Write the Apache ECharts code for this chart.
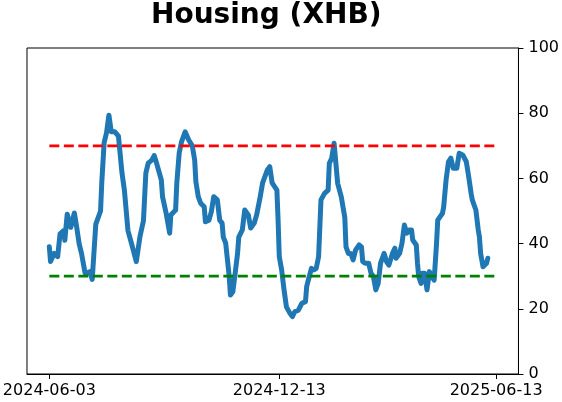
<!DOCTYPE html>
<html>
<head>
<meta charset="utf-8">
<script src="https://cdn.jsdelivr.net/npm/echarts@6/dist/echarts.min.js"></script>
<style>
  html, body { margin: 0; padding: 0; background: #fff; }
  #chart { width: 562px; height: 402px; }
</style>
</head>
<body>
<div id="chart"></div>
<script>
// readings of the XHB line, one per date
var dates = [
  '2024-06-03','2024-06-04','2024-06-07','2024-06-10','2024-06-12','2024-06-15','2024-06-16','2024-06-18',
  '2024-06-21','2024-06-24','2024-06-26','2024-06-28','2024-06-30','2024-07-03','2024-07-05','2024-07-07',
  '2024-07-09','2024-07-12','2024-07-16','2024-07-17','2024-07-19','2024-07-21','2024-07-23','2024-07-25',
  '2024-07-28','2024-07-31','2024-08-03','2024-08-05','2024-08-08','2024-08-11','2024-08-15','2024-08-18',
  '2024-08-21','2024-08-23','2024-08-25','2024-08-28','2024-08-30','2024-09-01','2024-09-05','2024-09-06',
  '2024-09-09','2024-09-12','2024-09-13','2024-09-17','2024-09-18','2024-09-20','2024-09-22','2024-09-25',
  '2024-09-28','2024-10-01','2024-10-03','2024-10-04','2024-10-06','2024-10-08','2024-10-11','2024-10-12',
  '2024-10-15','2024-10-17','2024-10-19','2024-10-22','2024-10-24','2024-10-26','2024-10-27','2024-10-29',
  '2024-11-01','2024-11-02','2024-11-04','2024-11-06','2024-11-08','2024-11-09','2024-11-12','2024-11-14',
  '2024-11-17','2024-11-19','2024-11-22','2024-11-24','2024-11-27','2024-11-29','2024-12-03','2024-12-05',
  '2024-12-07','2024-12-11','2024-12-12','2024-12-13','2024-12-15','2024-12-17','2024-12-19','2024-12-22',
  '2024-12-24','2024-12-26','2024-12-29','2025-01-01','2025-01-04','2025-01-05','2025-01-06','2025-01-09',
  '2025-01-11','2025-01-13','2025-01-15','2025-01-17','2025-01-20','2025-01-23','2025-01-24','2025-01-26',
  '2025-01-28','2025-01-29','2025-01-31','2025-02-03','2025-02-06','2025-02-07','2025-02-09','2025-02-11',
  '2025-02-13','2025-02-15','2025-02-18','2025-02-20','2025-02-21','2025-02-23','2025-02-26','2025-02-28',
  '2025-03-02','2025-03-04','2025-03-06','2025-03-08','2025-03-10','2025-03-11','2025-03-13','2025-03-15',
  '2025-03-18','2025-03-20','2025-03-21','2025-03-24','2025-03-26','2025-03-28','2025-03-30','2025-04-01',
  '2025-04-03','2025-04-04','2025-04-07','2025-04-08','2025-04-09','2025-04-11','2025-04-12','2025-04-14',
  '2025-04-16','2025-04-18','2025-04-20','2025-04-22','2025-04-24','2025-04-25','2025-04-29','2025-04-30',
  '2025-05-02','2025-05-04','2025-05-06','2025-05-08','2025-05-11','2025-05-13','2025-05-16','2025-05-19',
  '2025-05-21','2025-05-23','2025-05-24','2025-05-27','2025-05-29','2025-05-30','2025-05-31','2025-06-02',
  '2025-06-05','2025-06-06'
];
var values = [
  39, 34.5, 37, 36, 43, 44, 41, 49,
  45, 49.4, 45, 40, 37, 31, 31, 31.4,
  29, 46, 50, 58.6, 71, 74, 79.4, 74.3,
  74.3, 73, 61.6, 56.4, 44, 40, 34.5, 42,
  47, 61.6, 64.7, 65.6, 67, 64.7, 59.5, 54.4,
  49.4, 43.2, 48.8, 50.3, 58.6, 67.8, 71.3, 74.3,
  71.8, 70, 65.6, 59, 54.4, 52.4, 51.3, 46.7,
  47.2, 49.8, 54.4, 53.4, 47.2, 46.3, 42, 40.2,
  29.9, 24.2, 25.2, 31, 37, 42, 44.2, 50.3,
  48.8, 44.8, 46.3, 48.8, 54.4, 58.6, 62.6, 63.6,
  58.6, 56.4, 47.2, 36, 31.9, 25.8, 20.6, 18.6,
  17.6, 19.1, 19.6, 21.7, 22.2, 26.8, 28.3, 32.4,
  31.9, 32.4, 36, 53.4, 55.4, 56.4, 64.6, 66.2,
  70.8, 66.7, 58.5, 54.4, 48, 39, 37, 37,
  35, 38, 39.6, 39, 34.5, 34, 34, 30.9,
  29.9, 25.8, 27.8, 34, 36, 37, 34.5, 33.4,
  37, 38.6, 35.5, 37, 40.1, 45.7, 43.2, 44.2,
  44.2, 41.1, 39.6, 34, 29.9, 27.8, 30.9, 30.9,
  25.8, 31.4, 29.9, 28.8, 40.1, 47.2, 49.3, 51.3,
  59.5, 65.1, 66.2, 63.1, 63.1, 67.7, 67.2, 65.1,
  60.5, 55.4, 53.4, 50.3, 44.2, 42, 37, 32.9,
  34, 35.5
];
var tickDates = ['2024-06-03', '2024-12-13', '2025-06-13'];
var upperLevel = 70;
var lowerLevel = 30;

function ts(d) { return +echarts.time.parse(d); }
function fmt(v) {
  var d = new Date(v);
  var m = d.getMonth() + 1, day = d.getDate();
  return d.getFullYear() + '-' + (m < 10 ? '0' : '') + m + '-' + (day < 10 ? '0' : '') + day;
}

var chart = echarts.init(document.getElementById('chart'));
var tickVals = tickDates.map(ts);
var t0 = tickVals[0];
var t1 = tickVals[tickVals.length - 1];
var pad = (t1 - t0) * 0.05;

var lineData = dates.map(function (d, i) { return [ts(d), values[i]]; });

var option = {
  animation: false,
  title: {
    text: 'Housing (XHB)',
    left: 146,
    top: -3,
    textStyle: { fontFamily: 'DejaVu Sans', fontWeight: 'bold', fontSize: 28, color: '#000' }
  },
  grid: {
    left: 25, right: 40, top: 48, bottom: 28,
    show: true, borderColor: '#000', borderWidth: 1, backgroundColor: 'transparent'
  },
  xAxis: {
    type: 'value',
    min: t0 - pad,
    max: t1 + pad,
    splitLine: { show: false },
    axisLine: { lineStyle: { color: '#000', width: 1 } },
    axisTick: { show: true, length: 5, customValues: tickVals, lineStyle: { color: '#000' } },
    axisLabel: {
      customValues: tickVals,
      color: '#000', fontFamily: 'DejaVu Sans', fontSize: 16, margin: 9,
      formatter: fmt
    }
  },
  yAxis: {
    type: 'value',
    position: 'right',
    min: 0, max: 100, interval: 20,
    splitLine: { show: false },
    axisLine: { show: true, lineStyle: { color: '#000', width: 1 } },
    axisTick: { show: true, length: 5, lineStyle: { color: '#000' } },
    axisLabel: { color: '#000', fontFamily: 'DejaVu Sans', fontSize: 16, margin: 10 }
  },
  series: [
    {
      type: 'line',
      data: [[t0, upperLevel], [t1, upperLevel]],
      symbol: 'none',
      lineStyle: { color: '#ff0000', width: 2.7, type: [10, 4.5] },
      z: 3
    },
    {
      type: 'line',
      data: [[t0, lowerLevel], [t1, lowerLevel]],
      symbol: 'none',
      lineStyle: { color: '#008000', width: 2.7, type: [10, 4.5] },
      z: 3
    },
    {
      type: 'line',
      data: lineData,
      symbol: 'none',
      lineStyle: { color: '#1f77b4', width: 5, cap: 'round', join: 'round' },
      z: 2
    }
  ]
};
chart.setOption(option);
window.addEventListener('resize', function () {
  chart.resize();
});
</script>
</body>
</html>
